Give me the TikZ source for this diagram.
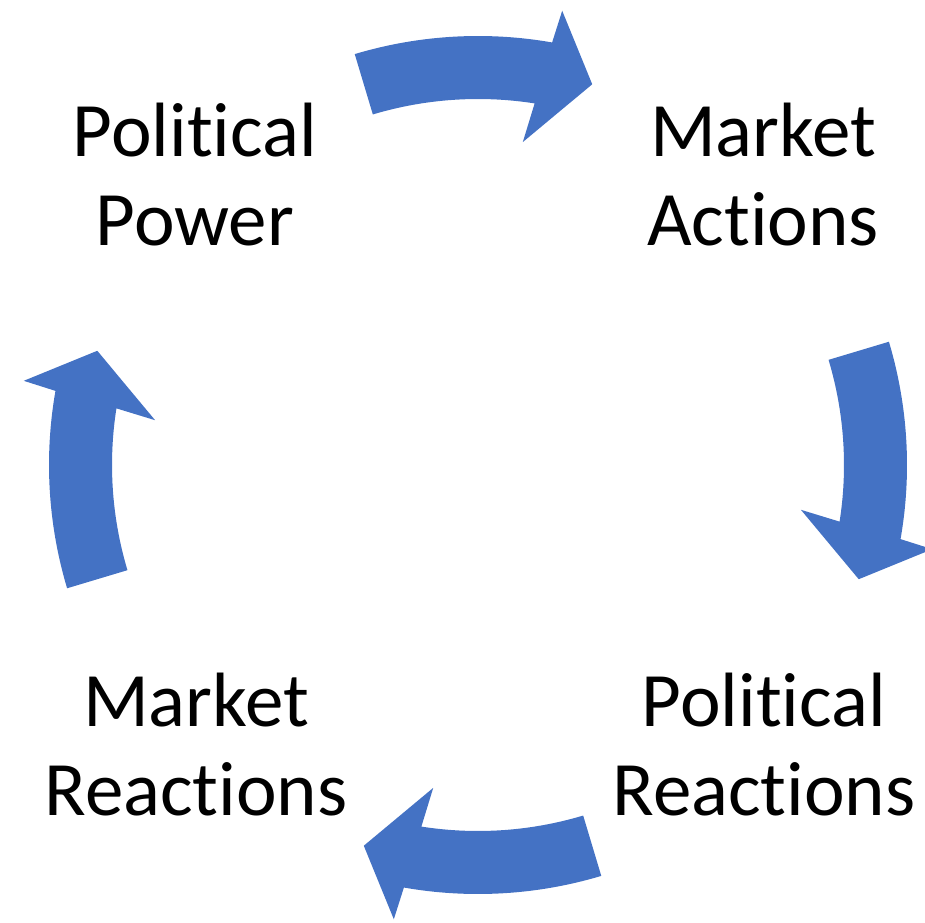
\documentclass[tikz,border=0pt]{standalone}
\usepackage{fontspec}
\setmainfont{Carlito}[Ligatures=NoCommon]
\usepackage{tikz}
\usetikzlibrary{calc}
\definecolor{arrowblue}{HTML}{4472C4}
\def\innerrad{366}
\def\outerrad{429}
\tikzset{cyclelabel/.style={align=center, inner sep=0pt, font=\fontsize{77}{89}\selectfont}}
\tikzset{cyclearrow/.style={fill=arrowblue, draw=none}}

\begin{document}
\begin{tikzpicture}[x=1pt, y=1pt]
\useasboundingbox (0,0) rectangle (925,922);
\coordinate (hub) at (478,457);

\node (polpower) [cyclelabel] at (195,747) {Political\\Power};
\node (mktactions) [cyclelabel] at (763,747) {Market\\Actions};
\node (polreact) [cyclelabel] at (764,177) {Political\\Reactions};
\node (mktreact) [cyclelabel] at (196,177) {Market\\Reactions};

% one bent arrow per quarter, turning clockwise
\foreach \ang in {90,0,-90,180} {
  \fill[cyclearrow, shift={(hub)}, rotate=\ang]
    (16.7:\outerrad) arc[start angle=16.7, end angle=-9.95, radius=\outerrad]
    -- (-10.5:462) -- (-16.7:397.5) -- (-7.9:326) -- (-8.9:\innerrad)
    arc[start angle=-8.9, end angle=16.7, radius=\innerrad] -- cycle;
}
\end{tikzpicture}
\end{document}
